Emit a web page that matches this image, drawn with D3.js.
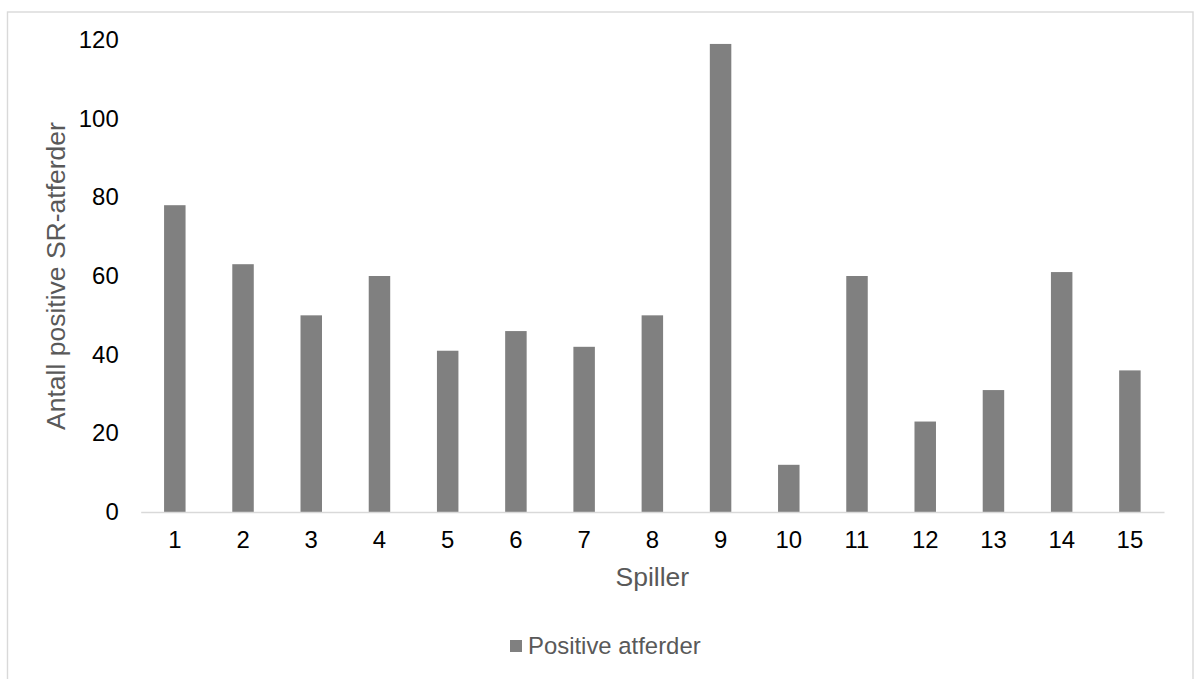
<!DOCTYPE html>
<html>
<head>
<meta charset="utf-8">
<script src="https://cdn.jsdelivr.net/npm/d3@7"></script>
<style>
  html, body { margin: 0; padding: 0; background: #fff; }
  svg { display: block; font-family: "Liberation Sans", Arial, sans-serif; }
</style>
</head>
<body>
<svg id="chart" width="1195" height="679"></svg>
<script>
// Players and their counts of positive SR behaviours
const players = ["1","2","3","4","5","6","7","8","9","10","11","12","13","14","15"];
const positiveCounts = [78, 63, 50, 60, 41, 46, 42, 50, 119, 12, 60, 23, 31, 61, 36];
const yTicks = [0, 20, 40, 60, 80, 100, 120];
const seriesName = "Positive atferder";
const xTitle = "Spiller";
const yTitle = "Antall positive SR-atferder";

const W = 1195, H = 679;
const plot = { left: 140.7, right: 1164, top: 40, bottom: 512 };

const svg = d3.select("#chart");

// Chart area frame
svg.append("rect")
  .attr("x", 7.5).attr("y", 12)
  .attr("width", 1185.5).attr("height", 720)
  .attr("fill", "#fff")
  .attr("stroke", "#d9d9d9")
  .attr("stroke-width", 1.4);

const x = d3.scaleBand()
  .domain(players)
  .range([plot.left, plot.right])
  .padding(0);

const y = d3.scaleLinear()
  .domain([0, 120])
  .range([plot.bottom, plot.top]);

const barW = x.bandwidth() * 0.315;

// Bars
svg.append("g")
  .selectAll("rect")
  .data(players.map((p, i) => ({ p, v: positiveCounts[i] })))
  .join("rect")
  .attr("x", d => x(d.p) + (x.bandwidth() - barW) / 2)
  .attr("y", d => y(d.v))
  .attr("width", barW)
  .attr("height", d => y(0) - y(d.v))
  .attr("fill", "#808080");

// Y axis: labels only, no line or ticks
const yAxis = svg.append("g")
  .attr("transform", `translate(${plot.left},0)`)
  .call(d3.axisLeft(y).tickValues(yTicks).tickSize(0).tickPadding(22));
yAxis.select(".domain").remove();
yAxis.selectAll("text")
  .attr("font-size", 23.9)
  .attr("font-family", "Liberation Sans, Arial, sans-serif")
  .attr("fill", "#000");

// X axis: baseline and category labels
const xAxis = svg.append("g")
  .attr("transform", `translate(0,${plot.bottom})`)
  .call(d3.axisBottom(x).tickSize(0).tickPadding(19));
xAxis.select(".domain")
  .attr("stroke", "#d9d9d9")
  .attr("stroke-width", 1.6);
xAxis.selectAll("text")
  .attr("font-size", 23.9)
  .attr("font-family", "Liberation Sans, Arial, sans-serif")
  .attr("fill", "#000");

// Axis titles
svg.append("text")
  .attr("x", (plot.left + plot.right) / 2)
  .attr("y", 586)
  .attr("text-anchor", "middle")
  .attr("font-size", 26.5)
  .attr("fill", "#595959")
  .text(xTitle);

svg.append("text")
  .attr("transform", `translate(65,${(120 + 432) / 2}) rotate(-90)`)
  .attr("text-anchor", "middle")
  .attr("font-size", 26.5)
  .attr("fill", "#595959")
  .text(yTitle);

// Legend
const legend = svg.append("g");
const legText = legend.append("text")
  .attr("x", 528)
  .attr("y", 654)
  .attr("font-size", 23.9)
  .attr("fill", "#595959")
  .text(seriesName);
legend.append("rect")
  .attr("x", 510).attr("y", 640)
  .attr("width", 12).attr("height", 12)
  .attr("fill", "#808080");
</script>
</body>
</html>
